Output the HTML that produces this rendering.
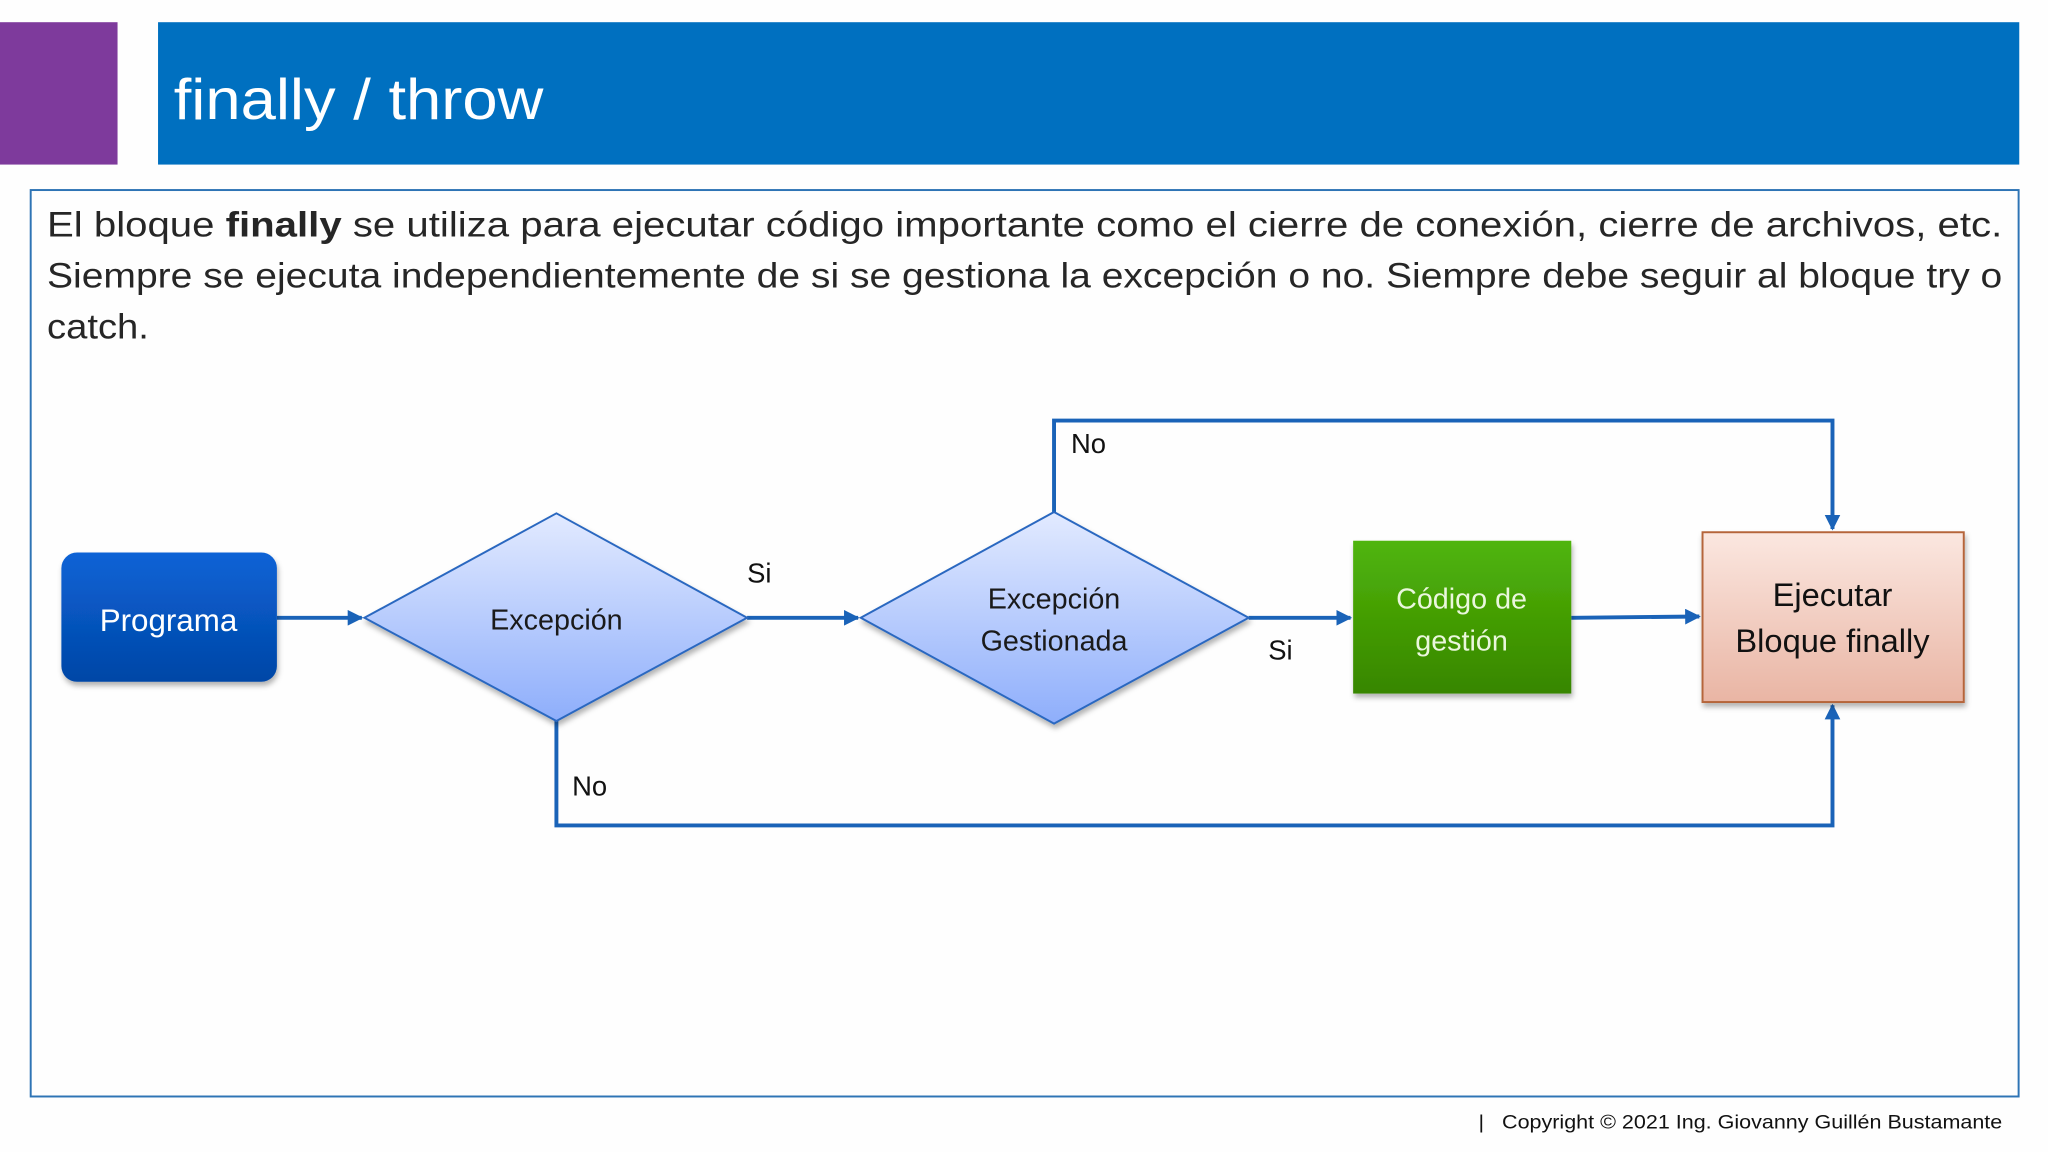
<!DOCTYPE html>
<html><head><meta charset="utf-8">
<style>
html,body{margin:0;padding:0;background:#fff;}
svg{display:block;}
text{font-family:"Liberation Sans",sans-serif;}
</style></head>
<body>
<svg width="2048" height="1152" viewBox="0 0 1568 882" xmlns="http://www.w3.org/2000/svg">
<defs>
<linearGradient id="gp" x1="0" y1="0" x2="0" y2="1"><stop offset="0" stop-color="#0a63d6"/><stop offset="1" stop-color="#0346a6"/></linearGradient>
<linearGradient id="gd" x1="0" y1="0" x2="0" y2="1"><stop offset="0" stop-color="#e2eaff"/><stop offset="1" stop-color="#8eaefb"/></linearGradient>
<linearGradient id="gg" x1="0" y1="0" x2="0" y2="1"><stop offset="0" stop-color="#50b50a"/><stop offset="1" stop-color="#378600"/></linearGradient>
<linearGradient id="go" x1="0" y1="0" x2="0" y2="1"><stop offset="0" stop-color="#fbe7e0"/><stop offset="1" stop-color="#e9b5a4"/></linearGradient>
<marker id="ar" viewBox="0 0 10 10" refX="9" refY="5" markerWidth="4" markerHeight="4" orient="auto"><path d="M0,0L10,5L0,10z" fill="#1a63b8"/></marker>
<filter id="sh" x="-10%" y="-10%" width="130%" height="130%"><feDropShadow dx="1" dy="3" stdDeviation="2" flood-color="#000" flood-opacity="0.3"/></filter>
</defs>
<rect width="1568" height="882" fill="#fefefe"/>
<rect x="0" y="17" width="90" height="109" fill="#7e3a9c"/>
<rect x="121" y="17" width="1425" height="109" fill="#0070c0"/>
<text x="133" y="91" font-size="44" fill="#fff" textLength="283" lengthAdjust="spacingAndGlyphs">finally / throw</text>
<rect x="23.5" y="145.5" width="1522" height="694" fill="none" stroke="#2e74b5" stroke-width="1.5"/>
<g font-size="27" fill="#262626">
<text x="36" y="181" textLength="1497" lengthAdjust="spacingAndGlyphs">El bloque <tspan font-weight="bold">finally</tspan> se utiliza para ejecutar código importante como el cierre de conexión, cierre de archivos, etc.</text>
<text x="36" y="220" textLength="1497" lengthAdjust="spacingAndGlyphs">Siempre se ejecuta independientemente de si se gestiona la excepción o no. Siempre debe seguir al bloque try o</text>
<text x="36" y="259" textLength="78" lengthAdjust="spacingAndGlyphs">catch.</text>
</g>
<g stroke="#1a63b8" stroke-width="3" fill="none">
<line x1="212" y1="473" x2="277" y2="473" marker-end="url(#ar)"/>
<line x1="572" y1="473" x2="657" y2="473" marker-end="url(#ar)"/>
<line x1="956" y1="473" x2="1034" y2="473" marker-end="url(#ar)"/>
<line x1="1203" y1="473" x2="1301" y2="472" marker-end="url(#ar)"/>
<polyline points="807,392 807,322 1403,322 1403,405" marker-end="url(#ar)"/>
<polyline points="426,552 426,632 1403,632 1403,540" marker-end="url(#ar)"/>
</g>
<rect x="47" y="423" width="165" height="99" rx="12" fill="url(#gp)" filter="url(#sh)"/>
<text x="129" y="483" font-size="24" fill="#fff" text-anchor="middle">Programa</text>
<polygon points="279,473 426,393 572,473 426,552" fill="url(#gd)" stroke="#2a67c0" stroke-width="1.5" filter="url(#sh)"/>
<text x="426" y="482" font-size="22" fill="#1a1a1a" text-anchor="middle">Excepción</text>
<polygon points="659,473 807,392 956,473 807,554" fill="url(#gd)" stroke="#2a67c0" stroke-width="1.5" filter="url(#sh)"/>
<text x="807" y="466" font-size="22" fill="#1a1a1a" text-anchor="middle">Excepción</text>
<text x="807" y="498" font-size="22" fill="#1a1a1a" text-anchor="middle">Gestionada</text>
<rect x="1036" y="414" width="167" height="117" fill="url(#gg)" filter="url(#sh)"/>
<text x="1119" y="466" font-size="22" fill="#eaf7dc" text-anchor="middle">Código de</text>
<text x="1119" y="498" font-size="22" fill="#eaf7dc" text-anchor="middle">gestión</text>
<rect x="1303.5" y="407.5" width="200" height="130" fill="url(#go)" stroke="#b5653a" stroke-width="1.5" filter="url(#sh)"/>
<text x="1403" y="464" font-size="25" fill="#111" text-anchor="middle">Ejecutar</text>
<text x="1403" y="499" font-size="25" fill="#111" text-anchor="middle">Bloque finally</text>
<g font-size="21" fill="#111">
<text x="572" y="446">Si</text>
<text x="971" y="505">Si</text>
<text x="820" y="347">No</text>
<text x="438" y="609">No</text>
</g>
<text x="1533" y="864" font-size="15" fill="#111" text-anchor="end" xml:space="preserve" textLength="401" lengthAdjust="spacingAndGlyphs">|   Copyright © 2021 Ing. Giovanny Guillén Bustamante</text>
</svg>
</body></html>
